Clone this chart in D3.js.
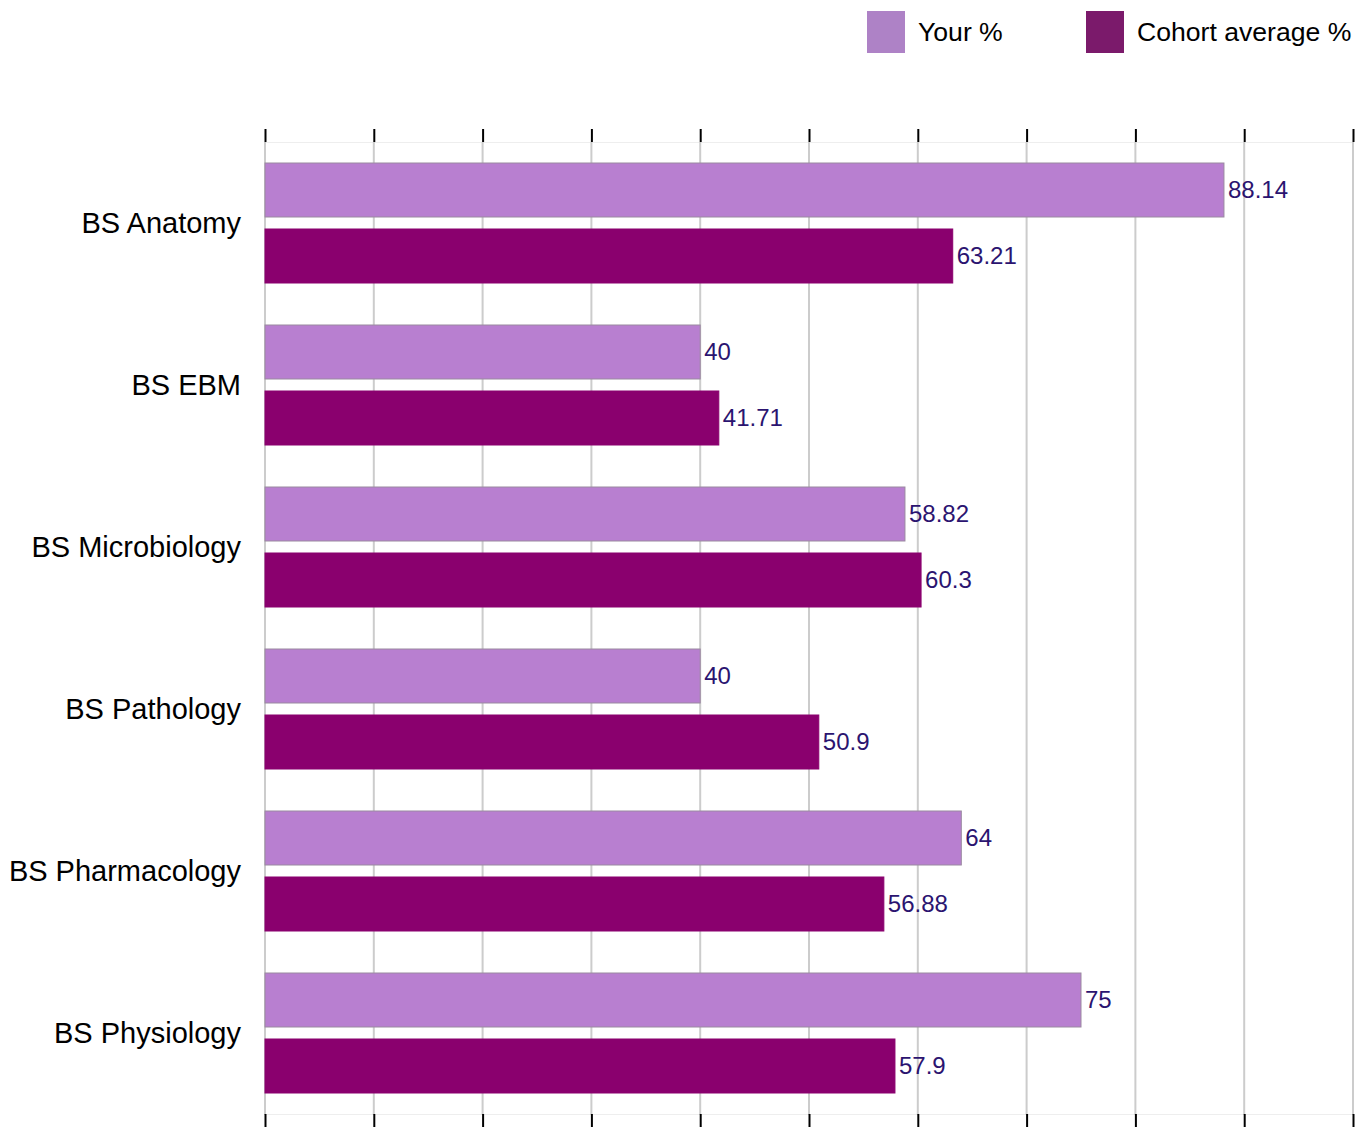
<!DOCTYPE html>
<html><head><meta charset="utf-8">
<script src="https://cdn.jsdelivr.net/npm/d3@7/dist/d3.min.js"></script>
<style>body{margin:0;background:#fff}svg{display:block}text{font-family:"Liberation Sans",Arial,sans-serif}</style>
</head><body><svg id="c" width="1368" height="1127"></svg>
<script>
const categories = ["BS Anatomy","BS EBM","BS Microbiology","BS Pathology","BS Pharmacology","BS Physiology"];
const seriesNames = ["Your %","Cohort average %"];
const yourPct = [88.14, 40, 58.82, 40, 64, 75];
const cohortPct = [63.21, 41.71, 60.3, 50.9, 56.88, 57.9];
const xTicks = [0,10,20,30,40,50,60,70,80,90,100];
const barColors = ["#b87fd0","#8a006e"];
const legendColors = ["#ae82c6","#7b1a6b"];

const svg = d3.select("#c");
const x = d3.scaleLinear().domain([0,100]).range([265,1353]);
const y0 = d3.scaleBand().domain(categories).range([142,1114]).padding(0);
const y1 = d3.scaleBand().domain(seriesNames).range([0,y0.bandwidth()]).paddingInner(12/66).paddingOuter(21/66);

svg.append("line").attr("x1",265).attr("x2",1353).attr("y1",142.5).attr("y2",142.5).attr("stroke","#eeeeee");
svg.append("line").attr("x1",265).attr("x2",1353).attr("y1",1114.5).attr("y2",1114.5).attr("stroke","#eeeeee");

svg.append("g").selectAll("line").data(xTicks).join("line")
  .attr("x1",d=>x(d)).attr("x2",d=>x(d)).attr("y1",142).attr("y2",1115)
  .attr("stroke","#cccccc").attr("stroke-width",2);

const topAxis = d3.axisTop(x).tickValues(xTicks).tickSize(13).tickFormat("");
const botAxis = d3.axisBottom(x).tickValues(xTicks).tickSize(13).tickFormat("");
const gt = svg.append("g").attr("transform","translate(0,142)").call(topAxis);
const gb = svg.append("g").attr("transform","translate(0,1114)").call(botAxis);
[gt,gb].forEach(g=>{g.select(".domain").remove();g.selectAll(".tick line").attr("stroke","#000").attr("stroke-width",2);});

const rows = categories.map((c,i)=>({cat:c, vals:[{s:seriesNames[0],v:yourPct[i]},{s:seriesNames[1],v:cohortPct[i]}]}));
const grp = svg.append("g").selectAll("g").data(rows).join("g")
  .attr("transform",d=>`translate(0,${y0(d.cat)})`);
grp.selectAll("rect").data(d=>d.vals).join("rect")
  .attr("x",x(0)).attr("y",d=>y1(d.s)).attr("width",d=>x(d.v)-x(0)).attr("height",y1.bandwidth())
  .attr("fill",(d,i)=>barColors[i]).attr("stroke",(d,i)=>i===0?"#9a8aa0":"#8a006e").attr("stroke-width",1);
grp.selectAll("text.v").data(d=>d.vals).join("text").attr("class","v")
  .attr("x",d=>x(d.v)+4).attr("y",d=>y1(d.s)+y1.bandwidth()/2).attr("dy","0.35em")
  .attr("font-size",24).attr("fill","#2b1470").text(d=>d.v);

svg.append("g").selectAll("text").data(categories).join("text")
  .attr("x",241).attr("y",d=>y0(d)+y0.bandwidth()/2).attr("dy","0.35em")
  .attr("text-anchor","end").attr("font-size",29).attr("fill","#000").text(d=>d);

const legX = [867,1086];
const leg = svg.append("g").selectAll("g").data(seriesNames).join("g");
leg.append("rect").attr("x",(d,i)=>legX[i]).attr("y",11).attr("width",38).attr("height",42).attr("fill",(d,i)=>legendColors[i]);
leg.append("text").attr("x",(d,i)=>legX[i]+51).attr("y",32).attr("dy","0.35em").attr("font-size",26.6).attr("fill","#000").text(d=>d);
</script></body></html>
